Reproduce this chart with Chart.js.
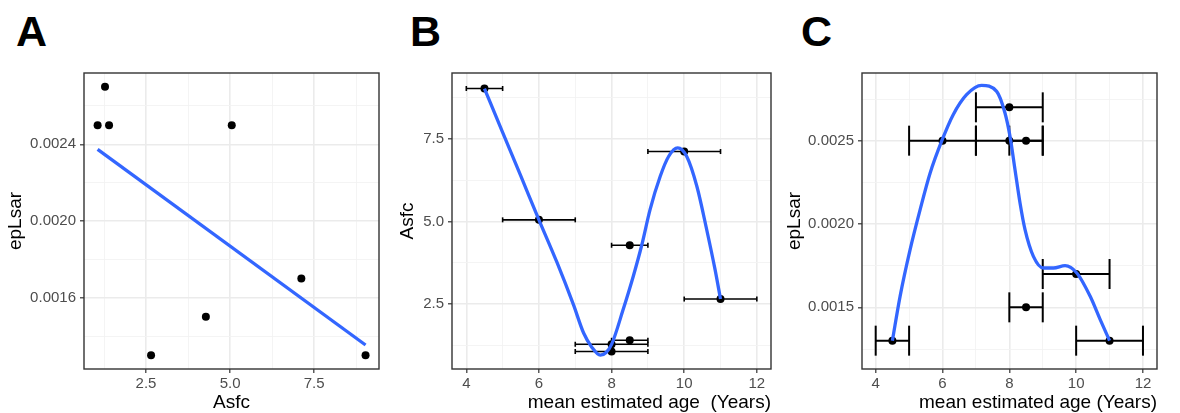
<!DOCTYPE html>
<html>
<head>
<meta charset="utf-8">
<script src="https://cdn.jsdelivr.net/npm/chart.js@4.4.1/dist/chart.umd.min.js"></script>
<style>
  body { margin: 0; background: #fff; width: 1180px; height: 413px; position: relative; overflow: hidden; }
  .panel { position: absolute; top: 60px; }
  .tag { position: absolute; top: 10px; font-family: "Liberation Sans"; font-weight: bold; font-size: 43px; line-height: 43px; color: #000; }
</style>
</head>
<body>
<div class="tag" style="left:16px">A</div>
<div class="tag" style="left:410px">B</div>
<div class="tag" style="left:801px">C</div>
<canvas id="chartA" class="panel" style="left:0px" width="390" height="353"></canvas>
<canvas id="chartB" class="panel" style="left:390px" width="390" height="353"></canvas>
<canvas id="chartC" class="panel" style="left:780px" width="400" height="353"></canvas>
<script>
// values, one entry per specimen
const ages = [4.5, 6, 8, 8, 8.5, 8.5, 10, 11];
const ageLow = [4, 5, 7, 7, 8, 8, 9, 10];
const ageHigh = [5, 7, 9, 9, 9, 9, 11, 12];
const asfc = [9.03, 5.05, 1.06, 1.28, 1.40, 4.28, 7.12, 2.65];
const epLsar = [0.0013, 0.0025, 0.0025, 0.0027, 0.0025, 0.0015, 0.0017, 0.0013];

// fitted line in A (its two ends)
const fitAsfc = [1.06, 9.03];
const fitEpLsar = [0.002374, 0.001353];

// smooth curve in B
const smoothAgeB = [4.5, 5.0, 5.5, 6.0, 6.5, 6.95, 7.23, 7.45, 7.69, 7.85, 8.01, 8.31, 8.6, 8.83, 9.06, 9.34, 9.57, 9.82, 10.07, 10.35, 10.62, 10.85, 11.0];
const smoothAsfcB = [9.03, 7.7, 6.38, 5.05, 3.75, 2.48, 1.62, 1.2, 0.95, 1.03, 1.3, 2.3, 3.35, 4.28, 5.36, 6.37, 6.97, 7.23, 6.97, 6.06, 4.75, 3.54, 2.65];

// smooth curve in C
const smoothAgeC = [4.5, 4.73, 5.03, 5.33, 5.63, 5.98, 6.32, 6.72, 7.17, 7.62, 7.87, 8.02, 8.17, 8.32, 8.47, 8.72, 9.02, 9.32, 9.67, 10.02, 10.42, 10.72, 11.0];
const smoothEpLsarC = [0.0013, 0.001566, 0.001846, 0.002086, 0.002306, 0.0025, 0.002656, 0.002776, 0.002832, 0.002796, 0.002666, 0.002526, 0.002326, 0.002126, 0.001966, 0.001806, 0.001736, 0.001736, 0.00175, 0.001706, 0.001566, 0.001426, 0.0013];

// tick values (minor ones only get a grid line)
const ticksAsfcA = [1.25, 2.5, 3.75, 5, 6.25, 7.5, 8.75];
const majorAsfcA = [2.5, 5, 7.5];
const ticksEpA = [0.0014, 0.0016, 0.0018, 0.0020, 0.0022, 0.0024, 0.0026];
const majorEpA = [0.0016, 0.0020, 0.0024];
const ticksAge = [4, 5, 6, 7, 8, 9, 10, 11, 12];
const majorAge = [4, 6, 8, 10, 12];
const ticksAsfcB = [1.25, 2.5, 3.75, 5, 6.25, 7.5, 8.75];
const majorAsfcB = [2.5, 5, 7.5];
const ticksEpC = [0.00125, 0.0015, 0.00175, 0.0020, 0.00225, 0.0025, 0.00275];
const majorEpC = [0.0015, 0.0020, 0.0025];

const BLUE = '#3366ff';

function axis(o) {
  const isMajor = v => o.major.some(m => Math.abs(m - v) < 1e-9);
  const vert = o.width !== undefined;
  return {
    type: 'linear',
    min: o.min,
    max: o.max,
    afterBuildTicks: s => { s.ticks = o.ticks.map(v => ({ value: v })); },
    afterFit: s => { if (vert) s.width = o.width; else s.height = o.height; },
    border: { display: false },
    grid: {
      color: c => (c.tick && isMajor(c.tick.value)) ? '#ebebeb' : '#f3f3f3',
      lineWidth: c => (c.tick && isMajor(c.tick.value)) ? 1.6 : 0.9,
      tickColor: c => (c.tick && isMajor(c.tick.value)) ? '#333333' : 'rgba(0,0,0,0)',
      tickWidth: 1.2,
      tickLength: 4,
      drawTicks: true
    },
    ticks: {
      autoSkip: false,
      maxRotation: 0,
      padding: vert ? 4 : 2,
      color: '#4d4d4d',
      font: { family: 'Liberation Sans', size: 15 },
      callback: v => isMajor(v) ? o.fmt(v) : ''
    },
    title: {
      display: true,
      text: o.title,
      align: o.align || 'center',
      color: '#000',
      font: { family: 'Liberation Sans', size: 19, lineHeight: vert ? 1.2 : 1.0 },
      padding: vert ? { top: o.titlePad, bottom: 0 } : { top: 0, bottom: 1 }
    }
  };
}

const borderBox = {
  id: 'borderBox',
  afterDatasetsDraw(chart) {
    const a = chart.chartArea, ctx = chart.ctx;
    ctx.save();
    ctx.strokeStyle = '#333333';
    ctx.lineWidth = 1.4;
    ctx.strokeRect(a.left, a.top, a.right - a.left, a.bottom - a.top);
    ctx.restore();
  }
};

function pointsSet(xs, ys) {
  return {
    type: 'scatter',
    data: xs.map((x, i) => ({ x: x, y: ys[i] })),
    backgroundColor: '#000',
    borderColor: '#000',
    pointRadius: 4,
    borderWidth: 0,
    order: 3
  };
}

function errorBars(ys, cap, w) {
  return ages.map((a, i) => ({
    type: 'line',
    data: [{ x: ageLow[i], y: ys[i] }, { x: ageHigh[i], y: ys[i] }],
    borderColor: '#000',
    borderWidth: w,
    pointStyle: 'line',
    rotation: 90,
    pointRadius: cap,
    pointBorderColor: '#000',
    pointBorderWidth: w,
    order: 2
  }));
}

function curveSet(xs, ys) {
  return {
    type: 'line',
    data: xs.map((x, i) => ({ x: x, y: ys[i] })),
    borderColor: BLUE,
    borderWidth: 3.3,
    pointRadius: 0,
    cubicInterpolationMode: 'monotone',
    order: 0
  };
}

function common(pad) {
  return {
    responsive: false,
    animation: false,
    events: [],
    layout: { autoPadding: false, padding: pad },
    plugins: { legend: { display: false }, tooltip: { enabled: false } }
  };
}

// A
new Chart(document.getElementById('chartA'), {
  type: 'scatter',
  data: {
    datasets: [
      pointsSet(asfc, epLsar),
      { type: 'line', data: fitAsfc.map((x, i) => ({ x: x, y: fitEpLsar[i] })), borderColor: BLUE, borderWidth: 3.3, pointRadius: 0, order: 0 }
    ]
  },
  options: Object.assign(common({ top: 13, right: 11, left: 0, bottom: 0 }), {
    scales: {
      x: axis({ min: 0.655, max: 9.43, ticks: ticksAsfcA, major: majorAsfcA, fmt: v => v.toFixed(1), title: 'Asfc', height: 44 }),
      y: axis({ min: 0.001228, max: 0.002772, ticks: ticksEpA, major: majorEpA, fmt: v => v.toFixed(4), title: 'epLsar', width: 84, titlePad: 4.5 })
    }
  }),
  plugins: [borderBox]
});

// B
new Chart(document.getElementById('chartB'), {
  type: 'scatter',
  data: {
    datasets: [pointsSet(ages, asfc)].concat(errorBars(asfc, 2.5, 1.6), [curveSet(smoothAgeB, smoothAsfcB)])
  },
  options: Object.assign(common({ top: 13, right: 9, left: 0, bottom: 0 }), {
    scales: {
      x: axis({ min: 3.606, max: 12.39, ticks: ticksAge, major: majorAge, fmt: v => String(v), title: 'mean estimated age  (Years)', align: 'end', height: 44 }),
      y: axis({ min: 0.53, max: 9.5, ticks: ticksAsfcB, major: majorAsfcB, fmt: v => v.toFixed(1), title: 'Asfc', width: 62, titlePad: 6 })
    }
  }),
  plugins: [borderBox]
});

// C
new Chart(document.getElementById('chartC'), {
  type: 'scatter',
  data: {
    datasets: [pointsSet(ages, epLsar)].concat(errorBars(epLsar, 15, 2), [curveSet(smoothAgeC, smoothEpLsarC)])
  },
  options: Object.assign(common({ top: 13, right: 23, left: 0, bottom: 0 }), {
    scales: {
      x: axis({ min: 3.59, max: 12.42, ticks: ticksAge, major: majorAge, fmt: v => String(v), title: 'mean estimated age (Years)', align: 'end', height: 44 }),
      y: axis({ min: 0.00113, max: 0.002906, ticks: ticksEpC, major: majorEpC, fmt: v => v.toFixed(4), title: 'epLsar', width: 82, titlePad: 3.5 })
    }
  }),
  plugins: [borderBox]
});
</script>
</body>
</html>
